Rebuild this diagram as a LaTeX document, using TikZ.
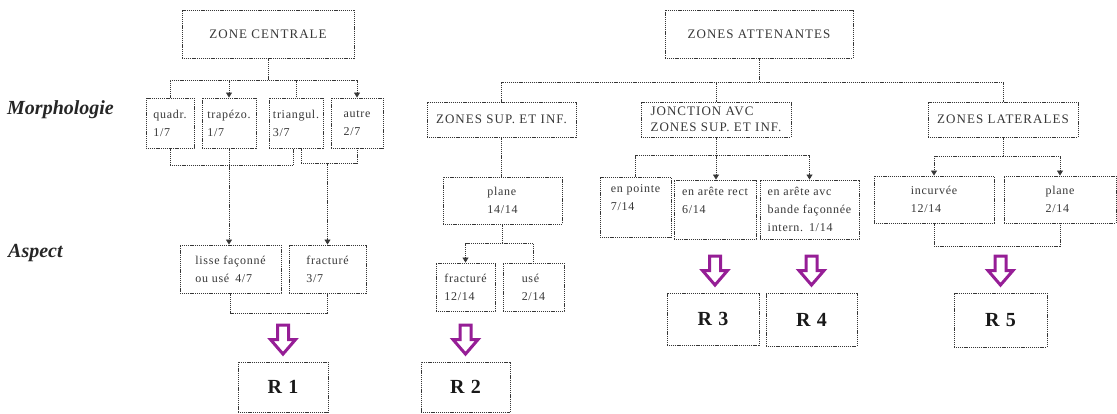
\documentclass[tikz,border=0pt]{standalone}
\usepackage{fontspec}
\setmainfont{Liberation Serif}
\newfontfamily\boxfont[LetterSpace=6]{Liberation Serif}
\newfontfamily\headfont[LetterSpace=8]{Liberation Serif}
\newfontfamily\rfont[LetterSpace=6]{Liberation Serif}
\usetikzlibrary{arrows.meta,calc}
\definecolor{purp}{RGB}{150,30,150}
\definecolor{ink}{RGB}{55,55,55}
\begin{document}
\begin{tikzpicture}[x=1pt,y=-1pt,
  dotline/.style={draw=ink, line width=0.9pt, dash pattern=on 1.1pt off 0.8pt},
  bx/.style={dotline, inner sep=0pt, align=left, text=ink},
  smallbox/.style={bx, font=\boxfont\fontsize{12}{18}\selectfont},
  headbox/.style={bx, font=\headfont\fontsize{13}{16}\selectfont},
  rbox/.style={bx, font=\rfont\bfseries\fontsize{20}{22}\selectfont, text=black!90},
  plainline/.style={dotline},
  arrline/.style={dotline, -{Triangle[length=5pt,width=6pt]}},
  sidelabel/.style={anchor=west, inner sep=0pt, font=\bfseries\itshape\fontsize{20}{22}\selectfont, text=black!85},
  bigarrow/.pic={\draw[purp, line width=3pt, fill=white, solid, line join=miter] (-5.5,-31.5) -- (5.5,-31.5) -- (5.5,-17) -- (12.5,-17) -- (0,-2.5) -- (-12.5,-17) -- (-5.5,-17) -- cycle;}
]
\useasboundingbox (0,0) rectangle (1117,414);

% side labels
\node[sidelabel] (morph) at (7,110) {Morphologie};
\node[sidelabel] (asp) at (8,253) {Aspect};

% ---------------- central zone
\node[headbox, minimum width=172pt, minimum height=48pt] (zc) at (268,34) {ZONE CENTRALE};
\node[smallbox, minimum width=48pt, minimum height=50pt] (quadr) at (170,123) {quadr.\\1/7};
\node[smallbox, minimum width=54pt, minimum height=50pt] (trap) at (229,123) {trapézo.\\1/7};
\node[smallbox, minimum width=54pt, minimum height=50pt] (tri) at (296,123) {triangul.\\3/7};
\node[smallbox, minimum width=52pt, minimum height=50pt] (autre) at (357,123) {autre\\2/7};
\node[smallbox, minimum width=101pt, minimum height=48pt] (lisse) at (230.5,269) {lisse façonné\\ou usé\enspace 4/7};
\node[smallbox, minimum width=77pt, minimum height=48pt] (fr1) at (327.5,269) {fracturé\\3/7};
\node[rbox, minimum width=90pt, minimum height=50pt] (r1) at (283,387) {R 1};

\coordinate (zcj) at ($(zc.south)+(0,22)$);
\draw[plainline] (zc.south) -- (zcj);
\draw[plainline] (quadr.north) -- (quadr.north |- zcj) -- (autre.north |- zcj);
\draw[arrline] (trap.north |- zcj) -- (trap.north);
\draw[plainline] (tri.north |- zcj) -- (tri.north);
\draw[arrline] (autre.north |- zcj) -- (autre.north);
\draw[plainline] (quadr.south) -- ++(0,17) -| ($(tri.south)+(-3,0)$);
\coordinate (trj) at ($(tri.south)+(5,15)$);
\draw[plainline] ($(tri.south)+(5,0)$) -- (trj) -| (autre.south);
\draw[arrline] (fr1.north |- trj) -- (fr1.north);
\draw[arrline] (trap.south) -- (trap.south |- lisse.north);
\draw[plainline] (lisse.south) -- ++(0,20) -| (fr1.south);
\pic at ($(r1.north)+(0,-5)$) {bigarrow};

% ---------------- adjacent zones
\node[headbox, minimum width=188pt, minimum height=48pt] (za) at (759,34) {ZONES ATTENANTES};
\node[headbox, minimum width=149pt, minimum height=35pt] (zsup) at (501.5,119.5) {ZONES SUP. ET INF.};
\node[headbox, minimum width=150pt, minimum height=35pt] (jonc) at (716,119.5) {JONCTION AVC\\ZONES SUP. ET INF.};
\node[headbox, minimum width=150pt, minimum height=35pt] (zlat) at (1003,119.5) {ZONES LATERALES};

\coordinate (zaj) at ($(za.south)+(0,24)$);
\draw[plainline] (za.south) -- (zaj);
\draw[plainline] (zsup.north) -- (zsup.north |- zaj) -- (zlat.north |- zaj) -- (zlat.north);
\draw[plainline] (jonc.north |- zaj) -- (jonc.north);

% sup / inf
\node[smallbox, minimum width=119pt, minimum height=47pt] (pl1) at (502.5,200.5) {plane\\14/14};
\node[smallbox, minimum width=59pt, minimum height=48pt] (fr2) at (465.5,287) {fracturé\\12/14};
\node[smallbox, minimum width=61pt, minimum height=48pt] (use) at (533.5,287) {usé\\2/14};
\node[rbox, minimum width=89pt, minimum height=50pt] (r2) at (465.5,387) {R 2};
\draw[plainline] (zsup.south) -- (zsup.south |- pl1.north);
\coordinate (plj) at ($(pl1.south)+(0,19)$);
\draw[plainline] (pl1.south) -- (plj);
\draw[plainline] (fr2.north |- plj) -- (use.north |- plj) -- (use.north);
\draw[arrline] (fr2.north |- plj) -- (fr2.north);
\pic at ($(r2.north)+(0,-5)$) {bigarrow};

% junction
\node[smallbox, minimum width=71pt, minimum height=60pt] (pointe) at (635.5,207) {en pointe\\7/14\\~};
\node[smallbox, minimum width=82pt, minimum height=59pt] (arete) at (715,209.5) {en arête rect\\6/14\\~};
\node[smallbox, minimum width=99pt, minimum height=59pt] (avc) at (809.5,209.5) {en arête avc\\bande façonnée\\intern.\enspace 1/14};
\node[rbox, minimum width=92pt, minimum height=52pt] (r3) at (713,319) {R 3};
\node[rbox, minimum width=91pt, minimum height=53pt] (r4) at (811.5,319.5) {R 4};
\coordinate (jj) at ($(jonc.south)+(0,18)$);
\draw[arrline] (jonc.south) -- (jonc.south |- arete.north);
\draw[plainline] (pointe.north) -- (pointe.north |- jj) -- (avc.north |- jj);
\draw[arrline] (avc.north |- jj) -- (avc.north);
\pic at ($(r3.north)+(2,-5)$) {bigarrow};
\pic at ($(r4.north)+(0,-5)$) {bigarrow};

% lateral
\node[smallbox, minimum width=120pt, minimum height=47pt] (inc) at (934,199.5) {incurvée\\12/14};
\node[smallbox, minimum width=112pt, minimum height=47pt] (pl2) at (1060,199.5) {plane\\2/14};
\node[rbox, minimum width=93pt, minimum height=54pt] (r5) at (1000.5,320) {R 5};
\coordinate (lj) at ($(zlat.south)+(0,19)$);
\draw[plainline] (zlat.south) -- (lj);
\draw[arrline] (lj) -| (inc.north);
\draw[arrline] (lj) -| (pl2.north);
\draw[plainline] (inc.south) -- ++(0,23) -| (pl2.south);
\pic at ($(r5.north)+(0,-5)$) {bigarrow};
\end{tikzpicture}
\end{document}
